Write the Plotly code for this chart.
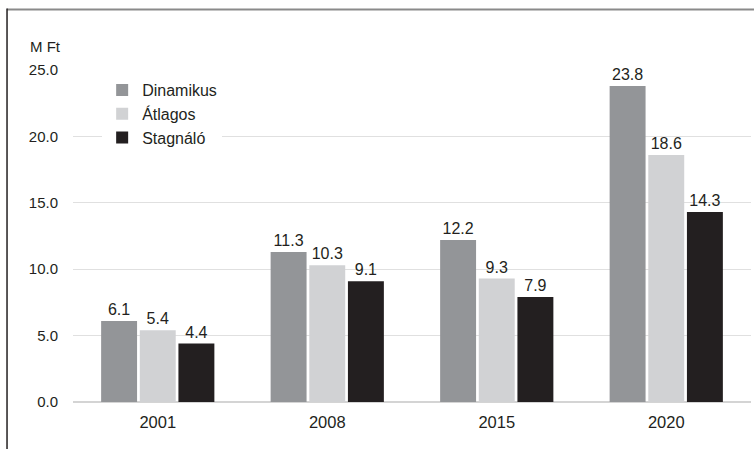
import plotly.graph_objects as go

years = ["2001", "2008", "2015", "2020"]
dinamikus = [6.1, 11.3, 12.2, 23.8]
atlagos = [5.4, 10.3, 9.3, 18.6]
stagnalo = [4.4, 9.1, 7.9, 14.3]
series_names = ["Dinamikus", "Átlagos", "Stagnáló"]
series_colors = ["#939598", "#d1d2d4", "#231f20"]
y_ticks = [0, 5, 10, 15, 20, 25]
y_tick_labels = ["0.0", "5.0", "10.0", "15.0", "20.0", "25.0"]

FONT = "Liberation Sans, Arial, sans-serif"
TXT = "#231f20"

fig = go.Figure()
for name, vals, col in zip(series_names, [dinamikus, atlagos, stagnalo], series_colors):
    fig.add_trace(go.Bar(
        x=years, y=vals, name=name,
        marker=dict(color=col, line=dict(width=0)),
        text=[f"{v:.1f}" for v in vals], textposition="outside",
        textfont=dict(family=FONT, size=16, color=TXT),
        cliponaxis=False,
    ))

fig.update_layout(
    width=754, height=449,
    margin=dict(l=73, r=3, t=70, b=47),
    paper_bgcolor="white", plot_bgcolor="white",
    barmode="group", bargap=0.316, bargroupgap=0.07,
    font=dict(family=FONT, size=15, color=TXT),
    showlegend=True,
    legend=dict(
        x=0.043, y=0.991, xanchor="left", yanchor="top",
        font=dict(family=FONT, size=16, color=TXT),
        bgcolor="white", itemwidth=30,
        tracegroupgap=0,
    ),
    xaxis=dict(
        showgrid=False, showline=False, ticks="",
        tickfont=dict(family=FONT, size=16.5, color=TXT),
        ticklabelstandoff=8,
    ),
    yaxis=dict(
        range=[0, 25], tickvals=y_ticks, ticktext=y_tick_labels,
        showgrid=True, gridcolor="#e0e0e0", gridwidth=1,
        zeroline=True, zerolinecolor="#d4d4d4", zerolinewidth=2,
        showline=False, ticks="", ticklabelstandoff=14,
        tickfont=dict(family=FONT, size=15, color=TXT),
    ),
    shapes=[
        dict(type="line", xref="paper", yref="paper",
             x0=-0.0973, x1=1.01, y0=1.182, y1=1.182,
             line=dict(color="#8a8a8a", width=2)),
        dict(type="line", xref="paper", yref="paper",
             x0=-0.0973, x1=-0.0973, y0=1.185, y1=-0.15,
             line=dict(color="#231f20", width=1.5)),
    ],
    annotations=[
        dict(text="M Ft", xref="paper", yref="paper", x=-0.066, y=1.07,
             xanchor="left", yanchor="middle", showarrow=False,
             font=dict(family=FONT, size=15, color=TXT)),
    ],
)

fig.write_html("out.html", config={"displayModeBar": False},
               post_script="document.body.style.margin='0';")
